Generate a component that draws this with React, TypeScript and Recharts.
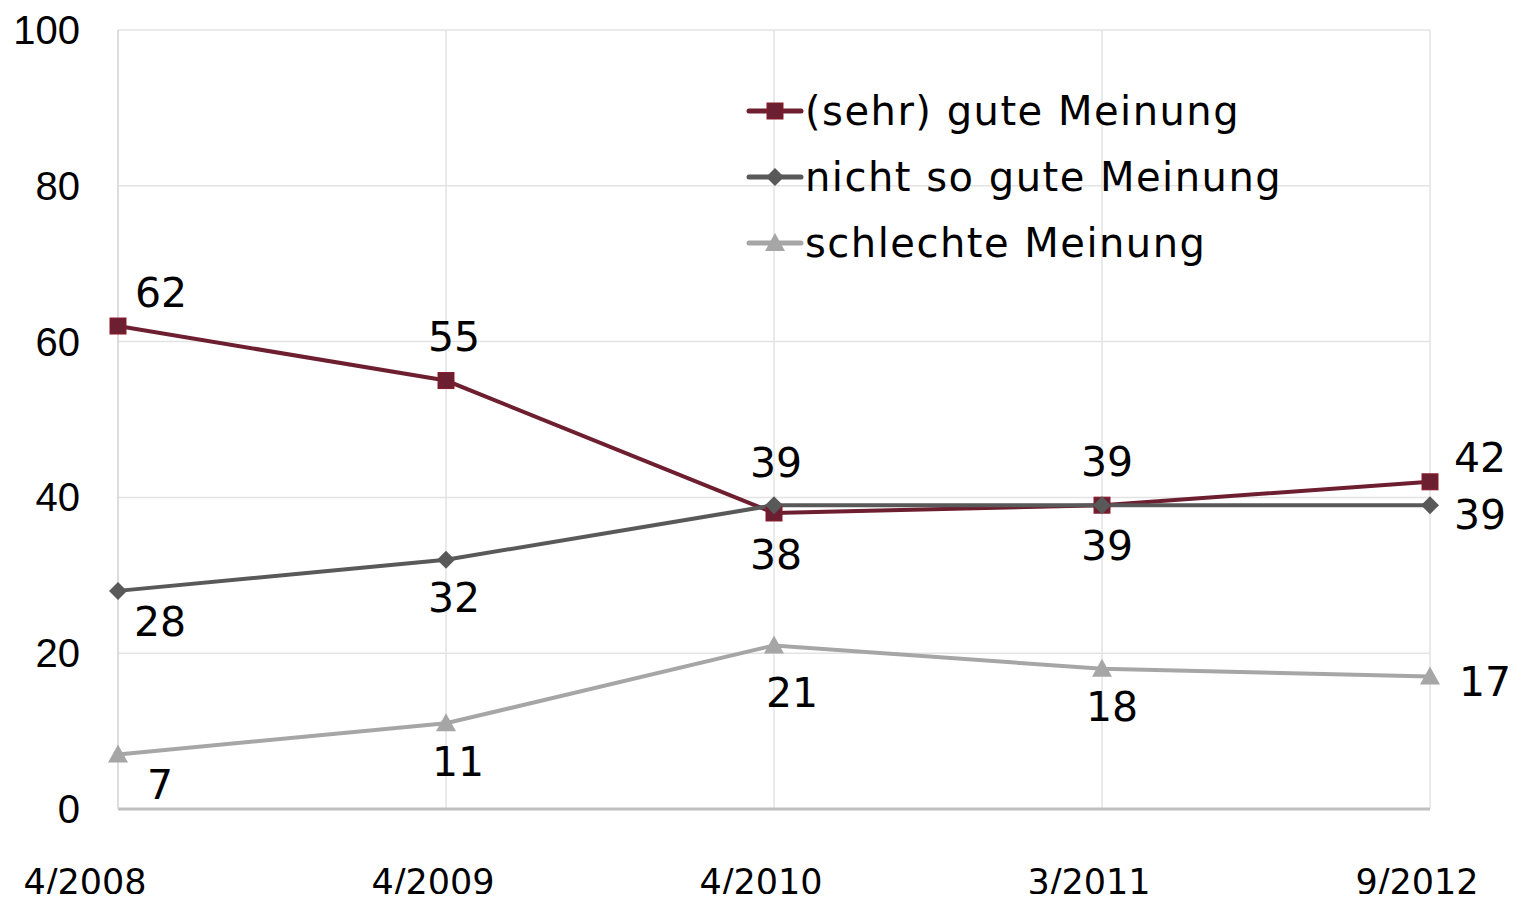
import React from "react";
import {
  LineChart,
  Line,
  XAxis,
  YAxis,
  CartesianGrid,
  LabelList,
} from "recharts";

// ── Data ──────────────────────────────────────────────────────

const periods = ["4/2008", "4/2009", "4/2010", "3/2011", "9/2012"];
const gut = [62, 55, 38, 39, 42];
const nichtSoGut = [28, 32, 39, 39, 39];
const schlecht = [7, 11, 21, 18, 17];
const yTicks = [0, 20, 40, 60, 80, 100];

const data = periods.map((p, i) => ({
  period: p,
  gut: gut[i],
  nichtSoGut: nichtSoGut[i],
  schlecht: schlecht[i],
}));

// label offsets (dx, dy) per point
const OFFSETS: Record<string, [number, number][]> = {
  gut: [[43, -33], [8, -44], [2, 42], [5, 41], [50, -24]],
  nichtSoGut: [[42, 31], [8, 38], [2, -42], [5, -43], [50, 10]],
  schlecht: [[42, 31], [12, 39], [18, 48], [10, 38], [55, 5]],
};

const SERIES = [
  { key: "gut", name: "(sehr) gute Meinung", color: "#6d1f2f", marker: "square" },
  { key: "nichtSoGut", name: "nicht so gute Meinung", color: "#595959", marker: "diamond" },
  { key: "schlecht", name: "schlechte Meinung", color: "#a6a6a6", marker: "triangle" },
];

const LABEL_FONT = "'DejaVu Sans', Verdana, sans-serif";

// ── Markers ───────────────────────────────────────────────────

function Marker({ cx, cy, type, color }: { cx: number; cy: number; type: string; color: string }) {
  if (cx == null || cy == null) return null;
  if (type === "square") {
    return <rect x={cx - 8} y={cy - 8} width={16} height={16} fill="#6b1f30" stroke="#8b1a2a" strokeWidth={1} />;
  }
  if (type === "diamond") {
    return <polygon points={`${cx},${cy - 9} ${cx + 9},${cy} ${cx},${cy + 9} ${cx - 9},${cy}`} fill={color} />;
  }
  return <polygon points={`${cx},${cy - 10} ${cx + 10},${cy + 8} ${cx - 10},${cy + 8}`} fill={color} />;
}

function makeLabel(key: string) {
  return (props: any) => {
    const { x, y, value, index } = props;
    const [dx, dy] = OFFSETS[key][index];
    return (
      <text
        x={x + dx}
        y={y + dy}
        textAnchor="middle"
        dominantBaseline="central"
        fontSize={41}
        fontFamily={LABEL_FONT}
        fill="#000"
      >
        {value}
      </text>
    );
  };
}

// ── Ticks ─────────────────────────────────────────────────────

function YTick({ x, y, payload }: any) {
  return (
    <text x={x - 30} y={y} textAnchor="end" dominantBaseline="central" fontSize={40}
      fontFamily="'Liberation Sans', Arial, sans-serif" fill="#000">
      {payload.value}
    </text>
  );
}

function XTick({ x, y, payload, index }: any) {
  const dx = index === 0 ? -33 : -13;
  return (
    <text x={x + dx} y={y + 65} textAnchor="middle" dominantBaseline="central" fontSize={35}
      fontFamily={LABEL_FONT} fill="#000">
      {payload.value}
    </text>
  );
}

// ── Legend (overlay) ──────────────────────────────────────────

function LegendBox() {
  return (
    <div style={{ position: "absolute", left: 745, top: 78 }}>
      {SERIES.map((s) => (
        <div key={s.key} style={{ display: "flex", alignItems: "center", height: 66 }}>
          <svg width={60} height={30}>
            <line x1={4} y1={15} x2={56} y2={15} stroke={s.color} strokeWidth={5} strokeLinecap="round" />
            <Marker cx={30} cy={15} type={s.marker} color={s.color} />
          </svg>
          <span style={{ fontFamily: LABEL_FONT, fontSize: 40, letterSpacing: 1.5, color: "#000", whiteSpace: "nowrap" }}>
            {s.name}
          </span>
        </div>
      ))}
    </div>
  );
}

// ── Chart ─────────────────────────────────────────────────────

export default function App() {
  return (
    <div style={{ width: 1517, height: 902, position: "relative", margin: -8 }}>
      <LineChart
        width={1517}
        height={902}
        data={data}
        margin={{ top: 30, right: 87, left: 0, bottom: 0 }}
      >
        <CartesianGrid stroke="#e3e3e3" strokeWidth={1.5} />
        <XAxis
          dataKey="period"
          height={93}
          tick={<XTick />}
          tickLine={false}
          axisLine={{ stroke: "#bfbfbf", strokeWidth: 3 }}
          interval={0}
        />
        <YAxis
          domain={[0, 100]}
          ticks={yTicks}
          width={118}
          tick={<YTick />}
          tickLine={false}
          axisLine={{ stroke: "#d9d9d9", strokeWidth: 1.5 }}
        />
        {SERIES.map((s) => (
          <Line
            key={s.key}
            dataKey={s.key}
            name={s.name}
            stroke={s.color}
            strokeWidth={4}
            isAnimationActive={false}
            dot={(p: any) => <Marker key={p.index} cx={p.cx} cy={p.cy} type={s.marker} color={s.color} />}
            activeDot={false}
          >
            <LabelList dataKey={s.key} content={makeLabel(s.key)} />
          </Line>
        ))}
      </LineChart>
      <LegendBox />
    </div>
  );
}
